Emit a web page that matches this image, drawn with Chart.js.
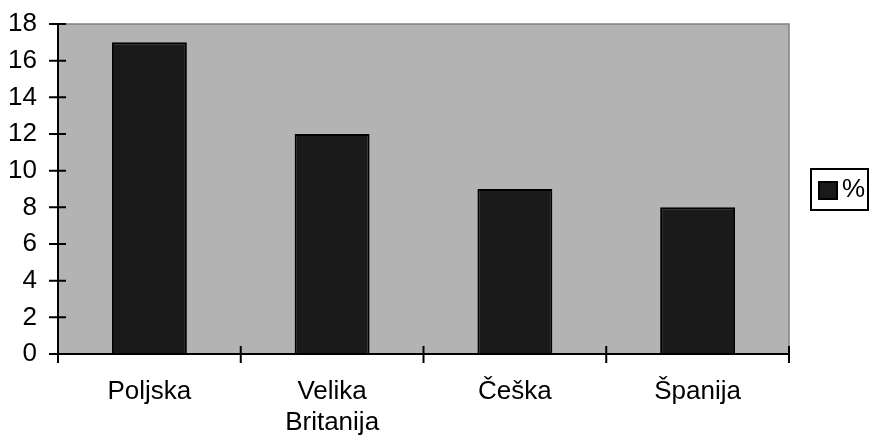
<!DOCTYPE html>
<html>
<head>
<meta charset="utf-8">
<script src="https://cdn.jsdelivr.net/npm/chart.js@4"></script>
<style>
  html, body { margin: 0; padding: 0; background: #fff; }
  #wrap { width: 870px; height: 436px; }
</style>
</head>
<body>
<div id="wrap"><canvas id="chart" width="870" height="436"></canvas></div>
<script>
const countries = ['Poljska', ['Velika', 'Britanija'], 'Češka', 'Španija'];
const percent = [17, 12, 9, 8];
const yTicks = [0, 2, 4, 6, 8, 10, 12, 14, 16, 18];
const seriesName = '%';

const family = '"Liberation Sans", Arial, sans-serif';
const font = { family, size: 26 };

// gray plot background, top/right frame, crossing tick marks, framed legend
const frame = {
  id: 'frame',
  beforeDatasetsDraw(c) {
    const { ctx, chartArea: a } = c;
    ctx.save();
    ctx.fillStyle = '#b3b3b3';
    ctx.fillRect(a.left, a.top, a.right - a.left, a.bottom - a.top);
    ctx.restore();
  },
  afterDraw(c) {
    const { ctx, chartArea: a, scales } = c;
    ctx.save();
    ctx.strokeStyle = '#808080';
    ctx.lineWidth = 1.5;
    ctx.beginPath();
    ctx.moveTo(a.left, a.top); ctx.lineTo(a.right, a.top); ctx.lineTo(a.right, a.bottom);
    ctx.stroke();
    ctx.strokeStyle = '#000';
    ctx.lineWidth = 2;
    ctx.beginPath();
    yTicks.forEach(v => { const y = scales.y.getPixelForValue(v); ctx.moveTo(a.left - 9, y); ctx.lineTo(a.left + 8, y); });
    for (let i = 0; i <= countries.length; i++) {
      const x = i === 0 ? a.left : i === countries.length ? a.right
        : (scales.x.getPixelForValue(i - 1) + scales.x.getPixelForValue(i)) / 2;
      ctx.moveTo(x, a.bottom - 8); ctx.lineTo(x, a.bottom + 9);
    }
    ctx.moveTo(a.left, a.top); ctx.lineTo(a.left, a.bottom); ctx.lineTo(a.right, a.bottom);
    ctx.stroke();

    // legend
    const ds = c.data.datasets[0];
    const lx = a.right + 21, cy = (a.top + a.bottom) / 2;
    ctx.lineWidth = 2;
    ctx.strokeRect(lx + 1, cy - 20, 57, 41);
    ctx.fillStyle = ds.backgroundColor;
    ctx.fillRect(lx + 9, cy - 7, 18, 17);
    ctx.lineWidth = 2;
    ctx.strokeRect(lx + 9, cy - 7, 18, 17);
    ctx.fillStyle = '#000';
    ctx.font = `26px ${family}`;
    ctx.textBaseline = 'middle';
    ctx.fillText(ds.label, lx + 32, cy + 1);
    ctx.restore();
  }
};

new Chart(document.getElementById('chart'), {
  type: 'bar',
  data: {
    labels: countries,
    datasets: [{
      label: seriesName,
      data: percent,
      backgroundColor: '#1a1a1a',
      borderColor: '#000',
      borderWidth: 2,
      barPercentage: 0.41,
      categoryPercentage: 1
    }]
  },
  options: {
    responsive: false,
    animation: false,
    layout: { padding: { left: 0, right: 81, top: 24, bottom: 0 } },
    plugins: {
      tooltip: { enabled: false },
      legend: { display: false }
    },
    scales: {
      x: {
        grid: { display: false },
        border: { display: false },
        ticks: { color: '#000', font, padding: 14, maxRotation: 0 },
        afterFit: s => { s.height = 82; s.paddingLeft = 0; s.paddingRight = 0; }
      },
      y: {
        min: 0, max: 18,
        afterBuildTicks: s => { s.ticks = yTicks.map(v => ({ value: v })); },
        grid: { display: false },
        border: { display: false },
        ticks: { color: '#000', font, padding: 13 },
        afterFit: s => { s.width = 58; s.paddingTop = 0; s.paddingBottom = 0; }
      }
    }
  },
  plugins: [frame]
});
</script>
</body>
</html>
